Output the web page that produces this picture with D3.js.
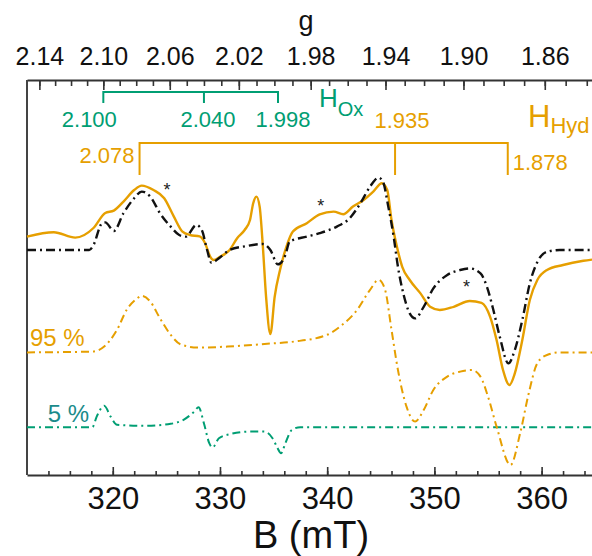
<!DOCTYPE html>
<html>
<head>
<meta charset="utf-8">
<script src="https://cdn.jsdelivr.net/npm/d3@7"></script>
<style>
body { margin: 0; background: #fff; }
svg { display: block; font-family: "Liberation Sans", Arial, sans-serif; }
</style>
</head>
<body>
<div id="chart"></div>
<script>
// g * B (mT) at the spectrometer frequency, used for the top g axis
var gbProduct = 670.15;

// measured spectrum (solid orange)
var expField = [312.0, 314.5, 316.5, 318.2, 319.3, 320.1, 321.0, 322.0, 322.7, 323.8, 324.8, 325.7, 326.5, 327.2, 328.1, 328.6, 329.1, 329.4, 330.0, 330.9, 331.6, 332.3, 332.8, 333.1, 333.4, 333.7, 334.0, 334.3, 334.7, 335.1, 335.6, 336.2, 336.8, 338.1, 339.3, 340.6, 341.5, 342.4, 343.4, 344.3, 345.1, 345.6, 346.0, 346.5, 347.0, 347.7, 348.7, 349.6, 350.5, 351.8, 353.3, 354.4, 355.2, 355.8, 356.4, 357.0, 357.5, 358.2, 358.9, 359.6, 360.5, 362.0, 363.9, 364.7];
var expSignal = [0.67, 0.89, 0.62, 1.1, 1.85, 1.97, 2.42, 3.0, 3.22, 3.0, 2.59, 1.67, 0.92, 0.75, 0.68, 0.35, -0.34, -0.5, -0.34, 0, 0.59, 1.0, 1.5, 2.34, 2.67, 2.17, 0.17, -2.34, -4.2, -2.34, -1.0, 0.17, 0.92, 1.34, 1.78, 1.92, 1.79, 2.17, 2.5, 2.92, 3.34, 3.0, 1.5, 0.17, -0.84, -1.5, -2.17, -2.84, -3.0, -2.84, -2.55, -2.64, -3.34, -4.5, -6.0, -6.75, -6.17, -4.5, -2.5, -1.5, -1.0, -0.75, -0.54, -0.48];

// total simulation (black dash-dot)
var simField = [312.0, 317.8, 318.2, 319.0, 319.3, 320.1, 321.0, 322.0, 322.7, 323.5, 324.4, 325.4, 326.2, 326.8, 327.8, 328.3, 328.8, 329.2, 330.0, 330.9, 332.5, 334.0, 334.7, 335.4, 336.1, 336.5, 338.1, 339.3, 340.9, 342.1, 343.1, 344.0, 344.8, 345.2, 345.7, 346.2, 346.6, 347.1, 347.7, 348.2, 349.0, 349.9, 351.2, 352.4, 353.3, 354.3, 354.9, 355.5, 356.1, 356.9, 357.5, 358.2, 358.9, 359.7, 360.5, 361.7, 364.7];
var simSignal = [0, 0, 0.25, 1.34, 1.38, 0.95, 1.84, 2.59, 2.92, 2.67, 1.84, 1.17, 0.75, 0.67, 1.25, 1.0, 0, -0.64, -0.37, 0, 0.2, 0.3, 0, -0.72, -0.25, 0.42, 0.67, 0.84, 1.17, 1.59, 2.34, 3.17, 3.62, 3.42, 2.17, 0.67, -0.84, -2.17, -3.17, -3.42, -2.84, -1.92, -1.25, -1.0, -0.92, -1.17, -1.84, -3.0, -4.34, -5.67, -5.0, -3.5, -1.67, -0.5, -0.09, 0, 0];

// Hhyd component, 95 %
var hydField = [312.0, 318.1, 319.2, 320.4, 321.3, 322.3, 322.7, 323.5, 324.4, 325.4, 326.3, 327.9, 330.7, 334.4, 336.9, 340.0, 341.2, 342.8, 344.0, 344.8, 345.4, 346.0, 346.6, 347.4, 348.2, 349.0, 349.9, 351.2, 352.4, 353.5, 354.3, 355.0, 355.8, 357.1, 358.0, 358.8, 359.6, 360.5, 361.7, 364.7];
var hydSignal = [0, 0.04, 0.29, 1.13, 2.13, 2.71, 2.83, 2.54, 1.71, 0.88, 0.41, 0.24, 0.29, 0.43, 0.54, 0.88, 1.29, 2.13, 3.13, 3.63, 3.13, 1.13, -0.88, -2.71, -3.46, -2.88, -1.88, -1.21, -0.96, -0.88, -1.21, -2.21, -3.71, -5.63, -4.04, -2.04, -0.54, -0.13, 0, 0];

// Hox component, 5 %
var oxField = [312.0, 318.1, 318.5, 319.2, 319.8, 320.4, 322.9, 325.4, 326.6, 327.6, 328.0, 328.5, 329.0, 329.3, 329.9, 331.0, 332.8, 334.1, 334.9, 335.3, 335.7, 336.1, 336.7, 337.5, 364.7];
var oxSignal = [0, 0, 0.53, 1.07, 0.53, 0.12, 0.07, 0.17, 0.37, 0.78, 1.0, 0.2, -0.8, -1.02, -0.55, -0.34, -0.22, -0.22, -0.55, -0.97, -1.3, -0.8, -0.14, 0, 0];

// vertical stacking offsets
var traceOffsets = { exp: 0, sim: 0, hyd: -5.12, ox: -8.86 };
var traceLabels = ["95 %", "5 %"];

// axis ticks
var fieldMajor = [320, 330, 340, 350, 360];
var fieldMinor = d3.range(314, 365, 2);
var gMajor = [2.14, 2.10, 2.06, 2.02, 1.98, 1.94, 1.90, 1.86];
var gMinor = d3.range(184, 215).map(function (v) { return v / 100; });

// g-value brackets
var oxG = [2.100, 2.040, 1.998];
var hydG = [2.078, 1.935, 1.878];

// asterisks [field, signal]
var starMarks = [[325.06, 3.2], [339.4, 2.42], [353.0, -1.67]];

var orange = "#E69F00", green = "#009E73", teal = "#1b8b8b";

var width = 592, height = 556;
var svg = d3.select("#chart").append("svg")
    .attr("width", width)
    .attr("height", height);

var x = d3.scaleLinear().domain([312, 364.7]).range([27, 592]);
var y = d3.scaleLinear().domain([-11.25, 8.5]).range([475, 80]);
function gx(g) { return x(gbProduct / g); }

// ---- axes ----
var bottomMinor = svg.append("g").attr("transform", "translate(0,475)")
    .call(d3.axisBottom(x).tickValues(fieldMinor).tickFormat("").tickSize(-4).tickSizeOuter(0));
var bottomAxis = svg.append("g").attr("transform", "translate(0,475)")
    .call(d3.axisBottom(x).tickValues(fieldMajor).tickFormat(d3.format("d")).tickSize(-8).tickSizeOuter(0).tickPadding(12));
bottomAxis.selectAll("text").attr("font-size", 31).attr("fill", "#111");

var gMinorAxis = svg.append("g").attr("transform", "translate(0,80)")
    .call(d3.axisTop(x).tickValues(gMinor.map(function (g) { return gbProduct / g; })).tickFormat("").tickSize(-6).tickSizeOuter(0));
var gAxis = svg.append("g").attr("transform", "translate(0,80)")
    .call(d3.axisTop(x).tickValues(gMajor.map(function (g) { return gbProduct / g; }))
        .tickFormat(function (b) { return d3.format(".2f")(gbProduct / b); })
        .tickSize(-10).tickSizeOuter(0).tickPadding(15));
gAxis.selectAll("text").attr("font-size", 25).attr("fill", "#111");

svg.selectAll(".domain").attr("stroke", "#333").attr("stroke-width", 2);
svg.selectAll(".tick line").attr("stroke", "#333").attr("stroke-width", 1.6);
bottomMinor.select(".domain").remove();
gMinorAxis.select(".domain").remove();

// left spine
svg.append("line")
    .attr("x1", x(312)).attr("x2", x(312))
    .attr("y1", y.range()[1]).attr("y2", y.range()[0])
    .attr("stroke", "#444").attr("stroke-width", 2);

// axis titles
svg.append("text").attr("x", 311).attr("y", 548).attr("text-anchor", "middle")
    .attr("font-size", 38).attr("fill", "#111").text("B (mT)");
svg.append("text").attr("x", 306).attr("y", 30).attr("text-anchor", "middle")
    .attr("font-size", 27).attr("fill", "#111").text("g");

// ---- traces ----
function drawTrace(fields, signals, offset, color, widthPx, dash) {
    var pts = d3.zip(fields, signals);
    var line = d3.line()
        .x(function (d) { return x(d[0]); })
        .y(function (d) { return y(d[1] + offset); })
        .curve(d3.curveMonotoneX);
    svg.append("path")
        .datum(pts)
        .attr("d", line)
        .attr("fill", "none")
        .attr("stroke", color)
        .attr("stroke-width", widthPx)
        .attr("stroke-dasharray", dash)
        .attr("stroke-linejoin", "round");
}

drawTrace(oxField, oxSignal, traceOffsets.ox, green, 2, "8,4,2,4");
drawTrace(hydField, hydSignal, traceOffsets.hyd, orange, 2, "8,4,2,4");
drawTrace(expField, expSignal, traceOffsets.exp, orange, 2.4, null);
drawTrace(simField, simSignal, traceOffsets.sim, "#111", 2.4, "9,4,2,4");

// percentage labels
svg.append("text").attr("x", x(312) + 3).attr("y", y(traceOffsets.hyd) - 6)
    .attr("font-size", 24).attr("fill", orange).text(traceLabels[0]);
svg.append("text").attr("x", x(312) + 62).attr("y", y(traceOffsets.ox) - 5)
    .attr("font-size", 24).attr("fill", teal).attr("text-anchor", "end").text(traceLabels[1]);

// asterisks
svg.selectAll(".star")
    .data(starMarks)
    .enter()
    .append("text")
    .attr("class", "star")
    .attr("x", function (d) { return x(d[0]); })
    .attr("y", function (d) { return y(d[1]) + 10; })
    .attr("text-anchor", "middle")
    .attr("font-size", 18)
    .attr("fill", "#222")
    .text("*");

// ---- g brackets ----
function drawBracket(gs, lineY, tickLen, color) {
    var b = svg.append("g").attr("stroke", color).attr("stroke-width", 2).attr("fill", "none");
    b.append("line").attr("x1", gx(gs[0])).attr("x2", gx(gs[gs.length - 1]))
        .attr("y1", lineY).attr("y2", lineY);
    gs.forEach(function (g) {
        b.append("line").attr("x1", gx(g)).attr("x2", gx(g))
            .attr("y1", lineY - 1).attr("y2", lineY + tickLen);
    });
}
drawBracket(oxG, 92, 11, green);
drawBracket(hydG, 143, 32, orange);

var oxDx = [-14, 4, 5];
oxG.forEach(function (g, i) {
    svg.append("text").attr("x", gx(g) + oxDx[i]).attr("y", 127)
        .attr("text-anchor", "middle").attr("font-size", 22).attr("fill", green)
        .text(d3.format(".3f")(g));
});
svg.append("text").attr("x", gx(hydG[0]) - 5).attr("y", 163)
    .attr("text-anchor", "end").attr("font-size", 22).attr("fill", orange)
    .text(d3.format(".3f")(hydG[0]));
svg.append("text").attr("x", gx(hydG[1]) + 7).attr("y", 128)
    .attr("text-anchor", "middle").attr("font-size", 22).attr("fill", orange)
    .text(d3.format(".3f")(hydG[1]));
svg.append("text").attr("x", gx(hydG[2]) + 5).attr("y", 170)
    .attr("text-anchor", "start").attr("font-size", 22).attr("fill", orange)
    .text(d3.format(".3f")(hydG[2]));

// species labels with subscripts
var hox = svg.append("text").attr("x", 319).attr("y", 107).attr("fill", green).attr("font-size", 26);
hox.append("tspan").text("H");
hox.append("tspan").attr("font-size", 20).attr("dy", 9).text("Ox");

var hhyd = svg.append("text").attr("x", 528).attr("y", 127).attr("fill", orange).attr("font-size", 31);
hhyd.append("tspan").text("H");
hhyd.append("tspan").attr("font-size", 22).attr("dy", 6).text("Hyd");
</script>
</body>
</html>
